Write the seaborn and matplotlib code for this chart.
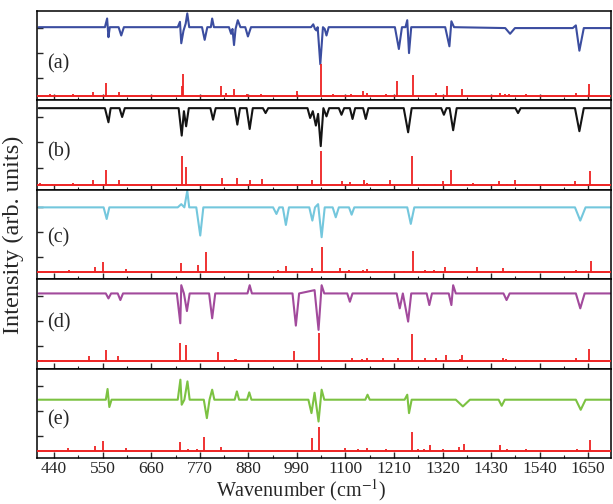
import matplotlib
matplotlib.use("Agg")
import numpy as np
import pandas as pd
import seaborn as sns
import matplotlib.pyplot as plt
from matplotlib.ticker import MultipleLocator, FixedLocator, NullFormatter

# ---------------- data ----------------
panel_labels = ["(a)", "(b)", "(c)", "(d)", "(e)"]
trace_colors = ["#3b4da0", "#141414", "#74c7dd", "#a24a9c", "#7cc242"]
stick_color = "#ee2222"

# measured spectra: (wavenumber, relative intensity in % of panel height)
trace_a = [(405, 82), (555, 82), (560, 91.7), (563, 70.8), (566, 82), (586, 82), (592, 72.7), (598, 82),
           (720, 82), (725, 88), (728, 64), (733, 78), (738, 86), (741.6, 97.4), (746, 82), (775, 82),
           (781, 67.8), (787, 82), (795, 82), (798, 91.7), (802, 82), (836, 82), (841, 74.6), (844, 80),
           (847.5, 62), (851, 80), (856, 89.8), (862, 82), (873, 82), (879, 71.6), (886, 82), (1022, 82),
           (1027, 85.2), (1031, 80), (1034, 78.4), (1037, 82), (1043, 40.5), (1049, 82), (1053, 80),
           (1057, 72.7), (1062, 82), (1212, 82), (1221, 57.6), (1228, 82), (1236, 82), (1240, 89.8),
           (1244, 53), (1249, 82), (1326, 82), (1335.5, 60.6), (1340, 88.6), (1346, 82), (1462, 81),
           (1473, 74.6), (1484, 81), (1615, 81), (1622, 84), (1630, 55.7), (1640, 81), (1700, 81)]
trace_b = [(405, 91.4), (555, 91.4), (563, 75.6), (568, 91.4), (588, 91.4), (594, 81.5), (600, 91.4),
           (722, 91.4), (729, 60.7), (734, 88), (739, 71.1), (745, 91.4), (794, 91.4), (800, 78.5),
           (806, 91.4), (849, 91.4), (855, 73), (861, 91.4), (876, 91.4), (883, 68.1), (890, 91.4),
           (913, 91.4), (919, 85.9), (925, 91.4), (1014, 91.4), (1020, 80.4), (1026, 88), (1033, 71.9),
           (1038, 85), (1044, 48.9), (1050, 91.4), (1057, 82.2), (1063, 91.4), (1085, 91.4), (1091, 84),
           (1097, 91.4), (1110, 91.4), (1116, 79.3), (1122, 91.4), (1140, 91.4), (1146, 79.3),
           (1152, 91.4), (1232, 91.4), (1242, 64.4), (1250, 91.4), (1317, 91.4), (1323, 84),
           (1329, 91.4), (1336, 91.4), (1344, 66.7), (1352, 91.4), (1485, 91.4), (1491, 85.9),
           (1497, 91.4), (1620, 91.4), (1630, 65.6), (1640, 91.4), (1700, 91.4)]
trace_c = [(405, 80.4), (552, 80.4), (559, 67.4), (565, 80.4), (720, 80.4), (728, 84), (735, 80.4),
           (741.6, 98.9), (746, 80.4), (762, 80.4), (771, 48.9), (778, 80.4), (936, 80.4), (943.6, 73),
           (950, 80.4), (958, 80.4), (965, 60.7), (972, 80.4), (1018, 80.4), (1025, 65.6), (1031, 80.4),
           (1038, 84), (1046, 47), (1053, 80.4), (1071, 80.4), (1078, 69.3), (1085, 80.4), (1108, 80.4),
           (1114, 72.2), (1120, 80.4), (1240, 80.4), (1248, 61.9), (1256, 80.4), (1620, 80.4),
           (1632, 65.6), (1644, 80.4), (1700, 80.4)]
trace_d = [(405, 84.1), (557, 84.1), (563, 78.5), (569, 84.1), (584, 84.1), (590, 76.7), (596, 84.1),
           (718, 84.1), (725.8, 50.7), (728, 93.3), (734, 84.1), (740.8, 64.4), (747, 84.1), (791, 84.1),
           (798, 56.3), (805, 84.1), (878, 84.1), (883, 93.3), (888, 84.1), (980, 84.1), (987.6, 48.1),
           (995, 84.1), (1030, 87.8), (1039, 43.3), (1046, 93.3), (1052, 84.1), (1104, 84.1),
           (1110, 74.8), (1116, 84.1), (1216, 84.1), (1223, 67.4), (1230, 84.1), (1242, 52.6),
           (1249, 84.1), (1284, 84.1), (1290, 71.1), (1296, 84.1), (1334, 84.1), (1340, 71.1),
           (1344, 93.3), (1350, 84.1), (1458, 84.1), (1465, 76.7), (1472, 84.1), (1622, 84.1),
           (1632, 67.4), (1642, 84.1), (1700, 84.1)]
trace_e = [(405, 65.2), (557, 65.2), (561, 77.2), (565, 57), (570, 65.2), (720, 65.2), (726, 87.6),
           (729, 59.6), (735, 65.2), (742, 85.7), (747, 65.2), (779, 65.2), (786, 44.6), (792, 65.2),
           (798, 76.4), (803, 65.2), (849, 65.2), (854, 74.5), (859, 65.2), (877, 65.2), (882, 73.4),
           (887, 65.2), (1016, 65.2), (1023, 50.2), (1030, 73), (1039, 40.8), (1046, 76.4), (1052, 65.2),
           (1145, 65.2), (1150, 70.8), (1155, 65.2), (1234, 65.2), (1240, 70.8), (1244, 50.2),
           (1250, 65.2), (1350, 65.2), (1366, 57.7), (1382, 65.2), (1447, 65.2), (1454, 58.4),
           (1461, 65.2), (1622, 65.2), (1633, 53.9), (1644, 65.2), (1700, 65.2)]

# calculated stick spectra: positions (cm-1) and heights (% of panel height)
sticks_a_x = [431, 482, 527, 558.5, 588, 729, 733, 817, 829, 848, 878, 909.6, 990, 1043.5, 1072, 1111.6,
              1139, 1149, 1191.7, 1217, 1253, 1305, 1329, 1363.5, 1450, 1462, 1471, 1509, 1623, 1652]
sticks_a_h = [1.9, 1.9, 4.5, 14.4, 4.5, 11.4, 24.6, 10.6, 3, 7.6, 1.9, 1.9, 5.3, 35.2, 1.9, 1.5,
              5.7, 3, 1.5, 17, 23.5, 3, 10.6, 7.6, 3.4, 1.9, 1.9, 1.5, 3.4, 13.3]
sticks_b_x = [409, 435, 482, 527, 558.5, 588, 730, 739, 766, 821, 834, 855, 883, 912, 1025, 1044, 1093,
              1110, 1142, 1148, 1182, 1202, 1251, 1278, 1303, 1320, 1338, 1388, 1448, 1467, 1485, 1510,
              1621, 1653]
sticks_b_h = [2.2, 1.9, 3, 5.6, 16.7, 5.6, 32.2, 20.4, 1.5, 8.1, 1.9, 8.5, 5.6, 6.7, 5.6, 37.8, 4.4,
              3.7, 5.6, 3, 1.5, 6.3, 32.6, 1.5, 1.5, 4.4, 17.4, 3, 4.4, 1.5, 5.6, 1.9, 4.4, 15.9]
sticks_c_x = [448, 473, 533.5, 551.7, 603, 728, 766, 783, 835, 868, 947, 966, 1025, 1047, 1087, 1109,
              1139, 1149, 1192, 1233, 1253, 1281, 1301, 1317, 1326, 1397, 1457, 1470, 1488, 1510, 1623, 1656]
sticks_c_h = [1.5, 3, 5.6, 11.1, 3.7, 10.4, 8.1, 22.9, 1.1, 1.1, 2.2, 7.4, 4.4, 28.5, 4.4, 3,
              2.2, 3.7, 1.5, 1.5, 24, 2.2, 3, 1.9, 5.6, 5.6, 4.4, 1.9, 1.9, 1.5, 2.2, 12.2]
sticks_d_x = [411.6, 435, 493, 520, 557.8, 585, 725.7, 738.5, 811, 849, 853, 874, 917, 984.5, 1041, 1078,
              1114, 1138, 1149, 1186, 1220, 1251, 1279.5, 1305, 1328, 1360, 1365, 1456, 1463, 1509, 1623, 1652]
sticks_d_h = [1.5, 1.5, 1.5, 5.6, 13, 5.6, 21.1, 18.5, 11.1, 2.2, 3, 1.5, 1.5, 11.8, 32.2, 1.5,
              3.7, 3, 4.4, 4.4, 4.4, 30.4, 4.4, 4.4, 6.7, 2.2, 6.7, 3.7, 3, 1.5, 3.7, 14.1]
sticks_e_x = [445.7, 470.6, 533.5, 551.7, 603, 725.7, 744, 763.5, 779, 817, 851, 868, 947, 1025, 1041,
              1098.6, 1129, 1149, 1192, 1250, 1264, 1279, 1292, 1320, 1357, 1368, 1450, 1467, 1509, 1625, 1653]
sticks_e_h = [1.1, 3, 4.9, 10.5, 3, 9.4, 1.5, 1.5, 15, 3.7, 1.1, 1.1, 1.1, 13.9, 26.2,
              3, 1.9, 3, 2.2, 20.6, 2.2, 1.5, 6.7, 1.9, 4.5, 7.5, 6.7, 1.5, 1.5, 2.2, 12.4]

stick_baselines = [5.3, 5.2, 7.8, 8.0, 8.2]
label_ypos = [0.41, 0.43, 0.46, 0.51, 0.43]
x_major_ticks = [440, 550, 660, 770, 880, 990, 1100, 1210, 1320, 1430, 1540, 1650]

traces = [trace_a, trace_b, trace_c, trace_d, trace_e]
sticks = [(sticks_a_x, sticks_a_h), (sticks_b_x, sticks_b_h), (sticks_c_x, sticks_c_h),
          (sticks_d_x, sticks_d_h), (sticks_e_x, sticks_e_h)]

# ---------------- figure ----------------
sns.set_style("ticks")
plt.rcParams["font.family"] = ["Liberation Serif", "DejaVu Serif"]
plt.rcParams["mathtext.fontset"] = "stix"

fig, axes = plt.subplots(5, 1, sharex=True, figsize=(6.13, 5.04), dpi=100)
fig.subplots_adjust(left=0.061, right=0.997, top=0.978, bottom=0.0913, hspace=0)

for i, ax in enumerate(axes):
    df = pd.DataFrame(traces[i], columns=["wn", "inten"])
    sns.lineplot(data=df, x="wn", y="inten", ax=ax, color=trace_colors[i], lw=1.5,
                 sort=False, estimator=None)
    base = stick_baselines[i]
    sx, sh = sticks[i]
    ax.axhline(base, color=stick_color, lw=1.4, zorder=3)
    ax.vlines(sx, base, base + np.array(sh), color=stick_color, lw=1.3, zorder=3)

    ax.set_xlim(402, 1702)
    ax.set_ylim(0, 100)
    ax.set_xlabel("")
    ax.set_ylabel("")
    ax.yaxis.set_major_locator(FixedLocator([25, 53, 81]))
    ax.yaxis.set_major_formatter(NullFormatter())
    ax.xaxis.set_major_locator(FixedLocator(x_major_ticks))
    ax.xaxis.set_minor_locator(MultipleLocator(55))
    ax.tick_params(axis="y", direction="in", length=4, width=1.0, left=True, right=False)
    ax.tick_params(axis="x", which="major", direction="in", length=4, width=1.0, top=False, bottom=True)
    ax.tick_params(axis="x", which="minor", direction="in", length=2, width=0.8, top=False, bottom=True)
    for sp in ax.spines.values():
        sp.set_linewidth(1.1)
        sp.set_color("black")
        sp.set_visible(True)
    ax.text(0.017, label_ypos[i], panel_labels[i], transform=ax.transAxes,
            ha="left", va="center", fontsize=14.5)

axes[-1].tick_params(axis="x", labelsize=12.5, pad=2)

fig.text(0.022, 0.535, "Intensity (arb. units)", rotation=90, ha="center", va="center", fontsize=17.5)
fig.text(0.492, 0.002, "Wavenumber (cm$^{-1}$)", ha="center", va="bottom", fontsize=14.5)

fig.savefig("out.png", dpi=100)
